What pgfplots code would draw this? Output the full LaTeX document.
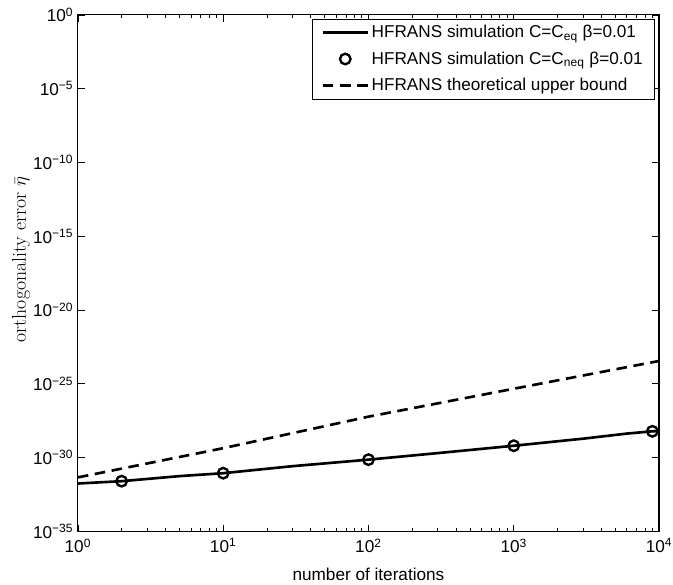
\documentclass[border=0pt]{standalone}
\usepackage{pgfplots}
\pgfplotsset{compat=1.18}
\usepackage{fontspec}
\setmainfont{Liberation Sans}
\newcommand\logtick[1]{\pgfmathtruncatemacro{\e}{round(#1/2.302585)}10\textsuperscript{\ifnum\e<0 −\number-\e\else\e\fi}}
\pgfplotsset{
  linelegend/.style={legend image code/.code={\draw[##1] (0pt,0pt) -- (34pt,0pt);}},
  marklegend/.style={legend image code/.code={\draw[##1] plot coordinates {(17pt,0pt)};}},
}
\begin{document}
\begin{tikzpicture}
\begin{loglogaxis}[
  scale only axis,
  width=440pt, height=391pt,
  xmin=1, xmax=1e4,
  ymin=1e-35, ymax=1,
  xtick={1,10,100,1000,10000},
  ytick={1e-35,1e-30,1e-25,1e-20,1e-15,1e-10,1e-5,1},
  yminorticks=false,
  tick align=inside,
  major tick length=5pt,
  minor tick length=2.5pt,
  every tick/.style={black, line width=0.5pt},
  axis line style={line width=0.8pt},
  tick label style={font=\fontsize{13}{15}\selectfont},
  xticklabel style={yshift=-2pt},
  xticklabel={\logtick{\tick}},
  yticklabel={\logtick{\tick}},
  xlabel={number of iterations},
  xlabel style={font=\fontsize{13}{15}\selectfont, at={(axis description cs:0.5,-0.083)}, anchor=center},
  ylabel={{\fontfamily{lmr}\selectfont orthogonality error} $\bar{\eta}$},
  ylabel style={font=\fontsize{15}{17}\selectfont, at={(axis description cs:-0.098,0.526)}, anchor=center},
  legend style={at={(0.993,0.993)}, anchor=north east, draw=black, line width=0.5pt,
    font=\fontsize{13}{15}\selectfont, row sep=5pt, inner ysep=3pt, inner xsep=7pt},
  legend cell align=left,
]
\addplot[black, line width=2pt, linelegend] coordinates {
  (1,1.74e-32) (2,2.5e-32) (5,5.5e-32) (10,8.7e-32) (30,2.6e-31) (100,7.2e-31)
  (300,2.0e-30) (1000,6.3e-30) (3000,1.9e-29) (6000,4.2e-29) (9000,6.0e-29) (10000,6.3e-29)
};
\addlegendentry{HFRANS simulation C=C\textsubscript{eq} β=0.01}
\addplot[black, only marks, mark=o, mark size=4pt, line width=1.8pt, marklegend] coordinates {
  (2,2.5e-32) (10,8.7e-32) (100,7.2e-31) (1000,6.3e-30) (9000,6.0e-29)
};
\addlegendentry{HFRANS simulation C=C\textsubscript{neq} β=0.01}
\addplot[black, line width=2pt, dash pattern=on 8pt off 5pt, linelegend] coordinates {
  (1,4.5e-32) (10,4.3e-30) (100,5.9e-28) (1000,4.6e-26) (10000,3.5e-24)
};
\addlegendentry{HFRANS theoretical upper bound}
\end{loglogaxis}
\pgfresetboundingbox
\path ([shift={(-59pt,-40pt)}]current axis.south west) rectangle ([shift={(10.6pt,11.3pt)}]current axis.north east);
\end{tikzpicture}
\end{document}
